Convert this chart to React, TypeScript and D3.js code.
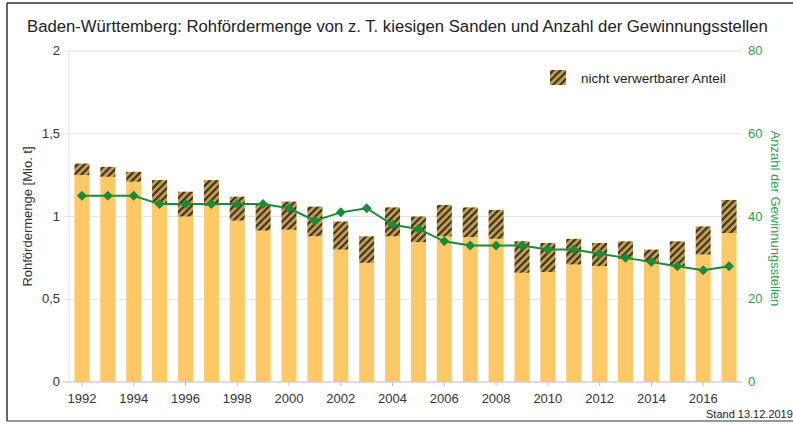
import * as d3 from 'd3';
import React from 'react';

const years = d3.range(1992, 2018).map(String);
// verwertbarer Anteil [Mio. t]
const usable = [1.25, 1.24, 1.21, 1.08, 1.0, 1.065, 0.975, 0.915, 0.92, 0.88, 0.8, 0.72, 0.88,
  0.845, 0.88, 0.875, 0.865, 0.66, 0.665, 0.71, 0.7, 0.745, 0.725, 0.7, 0.77, 0.9];
// Gesamtförderung [Mio. t]
const total = [1.32, 1.3, 1.27, 1.22, 1.15, 1.22, 1.12, 1.07, 1.09, 1.06, 0.97, 0.88, 1.055,
  1.0, 1.07, 1.055, 1.04, 0.85, 0.84, 0.865, 0.84, 0.85, 0.8, 0.85, 0.94, 1.1];
const sites = [45, 45, 45, 43, 43, 43, 43, 43, 42, 39, 41, 42, 38, 37, 34, 33, 33, 33, 32, 32,
  31, 30, 29, 28, 27, 28];
const leftTicks = [0, 0.5, 1, 1.5, 2];
const rightTicks = [0, 20, 40, 60, 80];
const labelYears = years.filter((y, i) => i % 2 === 0 && +y < 2017);

const W = 793;
const H = 424;
const left = 69;
const right = 742;
const top = 51;
const bottom = 382;
const font = 'Liberation Sans, Arial, sans-serif';

const App = () => {
  const x = d3.scaleBand().domain(years).range([left, right]).paddingInner(0.42).paddingOuter(0.21);
  const y = d3.scaleLinear().domain([0, 2]).range([bottom, top]);
  const y2 = d3.scaleLinear().domain([0, 80]).range([bottom, top]);
  const fmt = (v: number) => String(v).replace('.', ',');
  const cx = (yr: string) => x(yr)! + x.bandwidth() / 2;

  const line = d3.line<number>()
    .x((d, i) => cx(years[i]))
    .y((d) => y2(d));

  // Raute: gedrehtes Quadrat
  const diamond = d3.symbol().type(d3.symbolSquare).size(50)();

  return (
    <svg width={W} height={H} style={{ position: 'absolute', left: 0, top: 0, background: '#fff' }} fontFamily={font}>
      <defs>
        <pattern id="hatch" width="5" height="5" patternUnits="userSpaceOnUse" patternTransform="rotate(45)">
          <rect width="5" height="5" fill="#c9a04e" />
          <rect width="2.2" height="5" fill="#3a3322" />
        </pattern>
      </defs>
      {/* Rahmen */}
      <line x1={7} x2={W} y1={3} y2={3} stroke="#333" strokeWidth={1.5} />
      <line x1={7} x2={7} y1={3} y2={421} stroke="#333" strokeWidth={1.5} />
      <line x1={7} x2={W} y1={421} y2={421} stroke="#333" strokeWidth={1} />

      <text x={27} y={32} fontSize={16.7} fill="#222">
        Baden-Württemberg: Rohfördermenge von z. T. kiesigen Sanden und Anzahl der Gewinnungsstellen
      </text>

      {leftTicks.map((t) => (
        <g key={t}>
          <line x1={left - 6} x2={right} y1={y(t)} y2={y(t)} stroke={t === 0 ? '#bbb' : '#e4e4e4'} />
          <text x={60} y={y(t) + 4} textAnchor="end" fontSize={13} fill="#333">{fmt(t)}</text>
        </g>
      ))}
      <line x1={left} x2={left} y1={top} y2={bottom} stroke="#e4e4e4" />
      {rightTicks.map((t) => (
        <text key={t} x={748} y={y2(t) + 4} fontSize={13} fill="#2e9e4a">{t}</text>
      ))}

      <text transform={`translate(32,${(top + bottom) / 2}) rotate(-90)`} textAnchor="middle" fontSize={13} fill="#333">
        Rohfördermenge [Mio. t]
      </text>
      <text transform={`translate(771,${(top + bottom) / 2 + 2}) rotate(90)`} textAnchor="middle" fontSize={13} fill="#2e9e4a">
        Anzahl der Gewinnungsstellen
      </text>

      {years.map((yr, i) => (
        <g key={yr}>
          <rect x={x(yr)} width={x.bandwidth()} y={y(usable[i])} height={y(0) - y(usable[i])} fill="#fdc866" />
          <rect x={x(yr)} width={x.bandwidth()} y={y(total[i])} height={y(usable[i]) - y(total[i])} fill="url(#hatch)" />
        </g>
      ))}

      {labelYears.map((yr) => (
        <g key={yr}>
          <line x1={cx(yr)} x2={cx(yr)} y1={bottom} y2={bottom + 4} stroke="#bbb" />
          <text x={cx(yr)} y={403} textAnchor="middle" fontSize={13} fill="#333">{yr}</text>
        </g>
      ))}

      <path d={line(sites) ?? ''} fill="none" stroke="#1c8a3a" strokeWidth={2} />
      {sites.map((s, i) => (
        <path key={i} d={diamond ?? ''} transform={`translate(${cx(years[i])},${y2(s)}) rotate(45)`} fill="#1c8a3a" />
      ))}

      <rect x={550} y={70} width={16} height={15} fill="url(#hatch)" />
      <text x={581} y={83} fontSize={13.5} fill="#222">nicht verwertbarer Anteil</text>

      <text x={706} y={418} fontSize={11} fill="#222">Stand 13.12.2019</text>
    </svg>
  );
};

export default App;
